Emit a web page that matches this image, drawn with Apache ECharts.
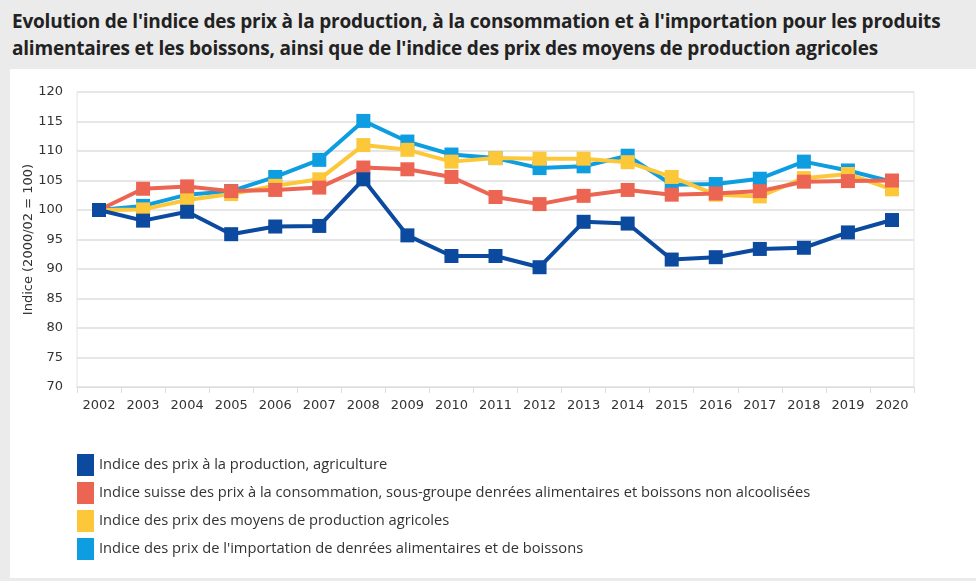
<!DOCTYPE html>
<html>
<head>
<meta charset="utf-8">
<script src="https://cdn.jsdelivr.net/npm/echarts@6/dist/echarts.min.js"></script>
<style>
  html, body { margin: 0; padding: 0; background: #ebebeb; }
  #title { position: absolute; left: 12px; top: 8px; width: 960px; font-family: "Open Sans", sans-serif; font-weight: bold; font-size: 19px; line-height: 27px; color: #222; letter-spacing: -0.2px; }
  #panel { position: absolute; left: 10px; top: 69px; width: 966px; height: 509px; background: #fff; }
  #chart { position: absolute; left: 0; top: 0; width: 976px; height: 581px; }
</style>
</head>
<body>
<div id="title">Evolution de l'indice des prix à la production, à la consommation et à l'importation pour les produits<br>alimentaires et les boissons, ainsi que de l'indice des prix des moyens de production agricoles</div>
<div id="panel"></div>
<div id="chart"></div>
<script>
// Years on the x axis
const years = ['2002','2003','2004','2005','2006','2007','2008','2009','2010','2011','2012','2013','2014','2015','2016','2017','2018','2019','2020'];

// Index values (2000/02 = 100)
const prodAgriculture = [100, 98.2, 99.7, 95.9, 97.2, 97.3, 105.2, 95.7, 92.2, 92.2, 90.3, 98.0, 97.7, 91.6, 92.0, 93.4, 93.6, 96.2, 98.3];
const consumerFood    = [100, 103.6, 104.0, 103.2, 103.4, 103.8, 107.2, 106.9, 105.6, 102.2, 101.0, 102.4, 103.4, 102.6, 102.8, 103.2, 104.8, 104.9, 105.0];
const agriInputs      = [100, 100.1, 101.7, 102.7, 104.1, 105.2, 111.0, 110.2, 108.2, 108.8, 108.7, 108.7, 108.1, 105.6, 102.6, 102.3, 105.4, 106.1, 103.5];
const importFood      = [100, 100.7, 102.6, 103.2, 105.6, 108.5, 115.1, 111.6, 109.4, 108.8, 107.1, 107.4, 109.2, 104.3, 104.4, 105.3, 108.2, 106.7, 104.8];

const seriesNames = [
  'Indice des prix à la production, agriculture',
  'Indice suisse des prix à la consommation, sous-groupe denrées alimentaires et boissons non alcoolisées',
  'Indice des prix des moyens de production agricoles',
  "Indice des prix de l'importation de denrées alimentaires et de boissons"
];
const colors = ['#0b4a9e', '#ec6552', '#fcc83a', '#0d9de0'];

const font = '"Open Sans", sans-serif';

function line(name, data, color, z) {
  return {
    name: name, type: 'line', data: data, z: z,
    symbol: 'rect', symbolSize: 14,
    lineStyle: { width: 4, color: color },
    itemStyle: { color: color },
    emphasis: { disabled: true }
  };
}

const chart = echarts.init(document.getElementById('chart'), null, { renderer: 'canvas' });
chart.setOption({
  animation: false,
  color: colors,
  grid: { left: 77, right: 62, top: 92, bottom: 194, containLabel: false,
          show: true, borderColor: '#e3e3e3', borderWidth: 1 },
  legend: {
    orient: 'vertical', left: 72, top: 449,
    itemWidth: 17, itemHeight: 22, itemGap: 6, icon: 'rect',
    textStyle: { fontFamily: font, fontSize: 14.7, color: '#333' },
    data: seriesNames
  },
  xAxis: {
    type: 'category', data: years, boundaryGap: true,
    axisLine: { show: true, lineStyle: { color: '#ddd', width: 1 } },
    axisTick: { show: true, length: 6, lineStyle: { color: '#ddd' } },
    axisLabel: { fontFamily: 'DejaVu Sans', fontSize: 13, color: '#333', margin: 12 },
    splitLine: { show: false }
  },
  yAxis: {
    type: 'value', min: 70, max: 120, interval: 5,
    name: 'Indice (2000/02 = 100)', nameLocation: 'middle', nameGap: 42,
    nameMoveOverlap: false,
    nameTextStyle: { fontFamily: 'DejaVu Sans', fontSize: 13, color: '#333' },
    axisLine: { show: false }, axisTick: { show: false },
    axisLabel: { fontFamily: 'DejaVu Sans', fontSize: 13, color: '#333', margin: 14 },
    splitLine: { lineStyle: { color: '#e6e6e6', width: 2 } }
  },
  series: [
    line(seriesNames[3], importFood, colors[3], 2),
    line(seriesNames[2], agriInputs, colors[2], 3),
    line(seriesNames[1], consumerFood, colors[1], 4),
    line(seriesNames[0], prodAgriculture, colors[0], 5)
  ]
});
</script>
</body>
</html>
